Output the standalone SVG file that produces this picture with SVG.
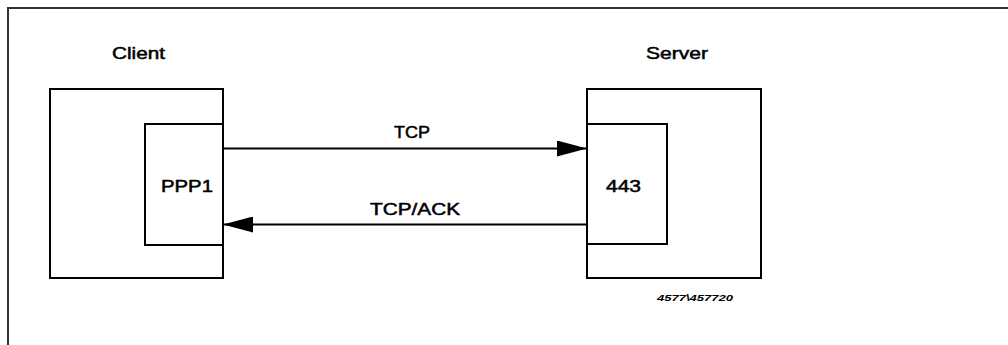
<svg xmlns="http://www.w3.org/2000/svg" width="1008" height="345" viewBox="0 0 1008 345">
<style>
.box{fill:none;stroke:#000;stroke-width:2}
.lbl{font-family:"Liberation Sans",Arial,sans-serif;font-size:16.5px;fill:#000;stroke:#000;stroke-width:0.5}
.small{font-family:"Liberation Sans",Arial,sans-serif;font-size:9.5px;font-weight:bold;font-style:italic;fill:#000}
.conn{stroke:#000;stroke-width:2;fill:none}
</style>
<defs>
<marker id="ah" markerWidth="30" markerHeight="16" refX="30" refY="8" orient="auto" markerUnits="userSpaceOnUse">
<path d="M0,0 L30,8 L0,16 Z" fill="#000"/>
</marker>
</defs>
<rect width="1008" height="345" fill="#fff"/>
<path d="M8,345 V8 H1008" fill="none" stroke="#333" stroke-width="2"/>
<g id="client">
<rect class="box" x="50" y="89" width="173" height="189"/>
<text class="lbl" x="112" y="59" textLength="53" lengthAdjust="spacingAndGlyphs">Client</text>
</g>
<g id="ppp1">
<rect class="box" x="145" y="124" width="78" height="121"/>
<text class="lbl" x="161" y="192" textLength="52" lengthAdjust="spacingAndGlyphs">PPP1</text>
</g>
<g id="server">
<rect class="box" x="587" y="89" width="174" height="189"/>
<text class="lbl" x="646" y="59" textLength="62" lengthAdjust="spacingAndGlyphs">Server</text>
</g>
<g id="port443">
<rect class="box" x="587" y="124" width="80" height="120"/>
<text class="lbl" x="606" y="192" textLength="35" lengthAdjust="spacingAndGlyphs">443</text>
</g>
<g id="connectors">
<line class="conn" x1="223" y1="148.5" x2="587" y2="148.5" marker-end="url(#ah)"/>
<text class="lbl" x="394" y="138" textLength="36" lengthAdjust="spacingAndGlyphs">TCP</text>
<line class="conn" x1="587" y1="224.5" x2="223" y2="224.5" marker-end="url(#ah)"/>
<text class="lbl" x="370" y="215" textLength="90" lengthAdjust="spacingAndGlyphs">TCP/ACK</text>
</g>
<text class="small" x="657" y="301" textLength="76" lengthAdjust="spacingAndGlyphs">4577\457720</text>
</svg>
